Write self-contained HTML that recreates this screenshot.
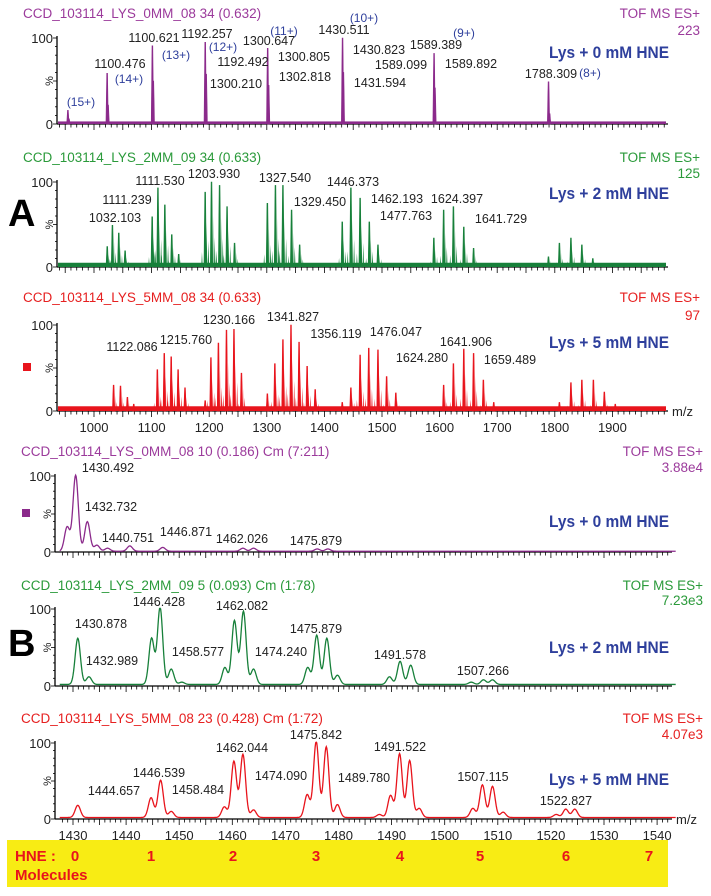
<!DOCTYPE html>
<html><head><meta charset="utf-8">
<style>
html,body{margin:0;padding:0;background:#fff;}
svg{display:block;font-family:"Liberation Sans",sans-serif;}
.lbl{font-size:12.5px;fill:#222;}
.tick{font-size:13px;fill:#222;}
.lys{font-size:17px;font-weight:bold;fill:#2e3f9c;}
.chg{font-size:12px;fill:#2e3f9c;}
</style></head>
<body>
<svg id="chart" width="711" height="896" viewBox="0 0 711 896" xmlns="http://www.w3.org/2000/svg">
<rect x="0" y="0" width="711" height="896" fill="#fff"/>
<text x="8" y="226" font-size="38" font-weight="bold" fill="#000">A</text>
<text x="8" y="656" font-size="38" font-weight="bold" fill="#000">B</text>
<rect x="23" y="363" width="8" height="8" fill="#e8141c"/>
<rect x="22" y="509" width="8" height="8" fill="#8b2a8b"/>
<g id="yellow">
<rect x="7" y="840" width="661" height="47" fill="#f8ec14"/>
<text x="15" y="861" font-size="15" font-weight="bold" fill="#e8141c">HNE :</text>
<text x="15" y="880" font-size="15" font-weight="bold" fill="#e8141c">Molecules</text>
</g>
<g id="plots"></g>
</svg>
<script>
// ---------- data ----------
const a1Mz  = [954.7, 956.5, 1022.8, 1024.5, 1101.4, 1103.0, 1193.1, 1194.8, 1301.5, 1303.2, 1431.5, 1433.0, 1590.4, 1592.0, 1789.1, 1791.0];
const a1Int = [16, 6, 59, 22, 91, 50, 95, 58, 88, 45, 100, 60, 82, 42, 49, 12];
const a2Mz  = [1023, 1032, 1043, 1054, 1101, 1111, 1123, 1135, 1147, 1193, 1204, 1218, 1231, 1244, 1301, 1315, 1328, 1343, 1357, 1431, 1446, 1462, 1478, 1493, 1590, 1607, 1624, 1642, 1659, 1789, 1808, 1828, 1847, 1866];
const a2Int = [24, 49, 40, 19, 59, 93, 73, 38, 15, 88, 100, 96, 71, 28, 75, 96, 96, 67, 26, 53, 93, 81, 53, 26, 34, 67, 71, 47, 22, 12, 28, 34, 26, 10];
const a3Mz  = [1034, 1046, 1058, 1069, 1110, 1122, 1134, 1146, 1158, 1193, 1203, 1216, 1230, 1243, 1256, 1301, 1314, 1328, 1342, 1356, 1370, 1384, 1431, 1446, 1462, 1477, 1493, 1508, 1524, 1607, 1624, 1642, 1659, 1676, 1694, 1808, 1828, 1847, 1867, 1886, 1905];
const a3Int = [30, 29, 16, 8, 48, 67, 63, 48, 27, 12, 62, 79, 94, 95, 44, 20, 55, 83, 100, 80, 52, 25, 10, 27, 65, 73, 71, 40, 21, 30, 55, 72, 67, 36, 10, 10, 33, 36, 36, 22, 8];
const b1Mz  = [1428.9, 1430.5, 1432.7, 1434.5, 1436.5, 1440.7, 1446.9, 1462.0, 1464.0, 1476.0, 1478.0];
const b1Int = [32, 100, 39, 8, 4, 7, 5, 4, 4, 3, 3];
const b2Mz  = [1430.9, 1433.0, 1444.8, 1446.4, 1448.5, 1450.5, 1458.6, 1460.4, 1462.1, 1464.0, 1474.2, 1475.9, 1477.8, 1479.8, 1489.6, 1491.6, 1493.6, 1505.0, 1507.3, 1509.0];
const b2Int = [60, 10, 60, 100, 20, 3, 22, 83, 95, 20, 22, 64, 60, 12, 10, 30, 25, 3, 6, 6];
const b3Mz  = [1430.9, 1444.7, 1446.5, 1448.5, 1458.5, 1460.3, 1462.0, 1464.0, 1474.1, 1475.8, 1477.7, 1479.8, 1487.7, 1489.8, 1491.5, 1493.4, 1495.2, 1505.3, 1507.1, 1509.0, 1511.0, 1521.0, 1522.8, 1524.5];
const b3Int = [16, 26, 49, 8, 14, 74, 83, 10, 30, 100, 93, 17, 4, 29, 84, 75, 12, 12, 43, 41, 7, 4, 11, 11];
const aTickLabels = [1000, 1100, 1200, 1300, 1400, 1500, 1600, 1700, 1800, 1900];
const bTickLabels = [1430, 1440, 1450, 1460, 1470, 1480, 1490, 1500, 1510, 1520, 1530, 1540];
const hneCounts = [0, 1, 2, 3, 4, 5, 6, 7];

// ---------- helpers ----------
const NS = "http://www.w3.org/2000/svg";
const root = document.getElementById('plots');
function mk(tag, attrs, parent, txt) {
  const e = document.createElementNS(NS, tag);
  for (const k in attrs) e.setAttribute(k, attrs[k]);
  if (txt !== undefined) e.textContent = txt;
  (parent || root).appendChild(e);
  return e;
}
const xA = mz => 94 + (mz - 1000) * 0.576;
const xB = mz => 73 + (mz - 1430) * 5.31;

function frame(g, o) {
  const yS = v => o.y0 - (o.y0 - o.y100) * v / 100;
  mk('line', {x1:o.ax, y1:o.y100 - 2, x2:o.ax, y2:o.y0, stroke:'#000', 'stroke-width':1.3}, g);
  mk('line', {x1:o.ax, y1:o.y0, x2:o.xEnd, y2:o.y0, stroke:'#000', 'stroke-width':1.3}, g);
  for (let v = 0; v <= 100; v += 10) {
    mk('line', {x1:o.ax - (v % 50 === 0 ? 4 : 2), y1:yS(v), x2:o.ax, y2:yS(v), stroke:'#000', 'stroke-width':0.8}, g);
  }
  const t100 = mk('text', {x:o.ax - 4, y:yS(100) + 5, 'text-anchor':'end', class:'tick'}, g, '100');
  
  
  const t0 = mk('text', {x:o.ax - 4, y:o.y0 + 5, 'text-anchor':'end', class:'tick'}, g, '0');
  
  
  const pc = mk('text', {x:0, y:0, 'font-size':11, fill:'#222', transform:`translate(${o.ax - 4},${yS(50)}) rotate(-90)`, 'text-anchor':'middle'}, g, '%');
  
  
  for (let m = o.tStart; m <= o.tEnd; m += o.tStep) {
    const xx = o.xf(m);
    if (xx < o.ax || xx > o.xEnd) continue;
    const major = Math.abs((m / o.tMajor) - Math.round(m / o.tMajor)) < 1e-6;
    mk('line', {x1:xx, y1:o.y0, x2:xx, y2:o.y0 + (major ? 6 : 3.5), stroke:'#000', 'stroke-width':0.8}, g);
  }
  const ti = mk('text', {x:o.ax - 34, y:o.titleY, 'font-size':13.5, fill:o.tcol}, g, o.title);
  
  
  const tof = mk('text', {x:o.rightX, y:o.titleY, 'font-size':13.5, fill:o.tcol, 'text-anchor':'end'}, g, 'TOF MS ES+');
  
  
  const sc = mk('text', {x:o.rightX, y:o.scaleY, 'font-size':13.5, fill:o.tcol, 'text-anchor':'end'}, g, o.scale);
  
  
  const ly = mk('text', {x:o.lysX, y:o.lysY, class:'lys', textLength:120, lengthAdjust:'spacingAndGlyphs'}, g, o.lys);
  
  
  return yS;
}

function stickPanel(name, mzArr, intArr, o) {
  const g = mk('g', {});
  
  
  const yS = frame(g, o);
  mk('rect', {x:o.ax + 1, y:yS(o.floor), width:o.xEnd - o.ax - 3, height:o.y0 - yS(o.floor), fill:o.col}, g);
  for (let i = 0; i < mzArr.length; i++) {
    const xx = o.xf(mzArr[i]);
    const p = mk('path', {d:`M${xx - o.bw},${o.y0} L${xx - 0.4},${yS(intArr[i])} L${xx + 0.4},${yS(intArr[i])} L${xx + o.bw},${o.y0} Z`, fill:o.col, stroke:o.col, 'stroke-width':0.6}, g);
    
    
    if (o.sub) {
      const s = mk('path', {d:`M${xx + 2.5},${o.y0} L${xx + 3.2},${yS(intArr[i] * 0.35)} L${xx + 3.9},${o.y0} Z M${xx - 3.9},${o.y0} L${xx - 3.2},${yS(intArr[i] * 0.2)} L${xx - 2.5},${o.y0} Z M${xx + 1.2},${o.y0} L${xx + 1.6},${yS(intArr[i] * 0.6)} L${xx + 2.0},${o.y0} Z`, fill:o.col}, g);
      
      
    }
  }
  return g;
}

function profilePanel(name, mzArr, intArr, o) {
  const g = mk('g', {});
  
  
  const yS = frame(g, o);
  let pts = [];
  const sig = 0.5;
  for (let m = 1427.5; m <= 1543.5; m += 0.1) {
    let v = o.floor;
    for (let i = 0; i < mzArr.length; i++) {
      const d = (m - mzArr[i]) / sig;
      if (Math.abs(d) < 6) v += intArr[i] * Math.exp(-0.5 * d * d);
    }
    pts.push(o.xf(m).toFixed(2) + ',' + yS(Math.min(v, 101)).toFixed(2));
  }
  const pl = mk('polyline', {points:pts.join(' '), fill:'none', stroke:o.col, 'stroke-width':1.3}, g);
  
  
  return g;
}

function labels(g, arr, cls) {
  arr.forEach(a => {
    const t = mk('text', {x:a[1], y:a[2], 'text-anchor':'middle', class:cls || 'lbl'}, g, a[0]);
    
    
  });
}

const purple = '#8b2a8b', green = '#17803a', red = '#e8141c';
const aBase = {ax:57, xEnd:668, xf:xA, tStart:940, tEnd:1990, tStep:10, tMajor:50, rightX:700, lysX:549, bw:1.2};
const bBase = {ax:55, xEnd:672, xf:xB, tStart:1428, tEnd:1543, tStep:1, tMajor:5, rightX:703, lysX:549};

const g1 = stickPanel('spectrum-a1', a1Mz, a1Int, Object.assign({}, aBase, {y0:124, y100:38, col:purple, tcol:'#9b3a9b', floor:3, titleY:18, scaleY:35, scale:'223', title:'CCD_103114_LYS_0MM_08 34 (0.632)', lys:'Lys + 0 mM HNE', lysY:58}));
labels(g1, [['1100.621',154,42],['1192.257',207,38],['1300.647',269,45],['1430.511',344,34],['1589.389',436,49],['1100.476',120,68],['1192.492',243,66],['1300.805',304,61],['1302.818',305,81],['1300.210',236,88],['1430.823',379,54],['1431.594',380,87],['1589.099',401,69],['1589.892',471,68],['1788.309',551,78]]);
labels(g1, [['(15+)',81,106],['(14+)',129,83],['(13+)',176,59],['(12+)',223,51],['(11+)',284,35],['(10+)',364,22],['(9+)',464,37],['(8+)',590,77]], 'chg');

const g2 = stickPanel('spectrum-a2', a2Mz, a2Int, Object.assign({}, aBase, {y0:267, y100:182, col:green, tcol:'#2a9a3a', floor:5, titleY:162, scaleY:178, scale:'125', title:'CCD_103114_LYS_2MM_09 34 (0.633)', lys:'Lys + 2 mM HNE', lysY:199, sub:true}));
labels(g2, [['1111.530',160,185],['1203.930',214,178],['1327.540',285,182],['1446.373',353,186],['1111.239',127,204],['1329.450',320,206],['1462.193',397,203],['1624.397',457,203],['1477.763',406,220],['1641.729',501,223],['1032.103',115,222]]);

const g3 = stickPanel('spectrum-a3', a3Mz, a3Int, Object.assign({}, aBase, {y0:411, y100:325, col:red, tcol:'#e62020', floor:5.5, titleY:302, scaleY:320, scale:'97', title:'CCD_103114_LYS_5MM_08 34 (0.633)', lys:'Lys + 5 mM HNE', lysY:348, sub:true}));
labels(g3, [['1230.166',229,324],['1341.827',293,321],['1122.086',132,351],['1215.760',186,344],['1356.119',336,338],['1476.047',396,336],['1641.906',466,346],['1624.280',422,362],['1659.489',510,364]]);
aTickLabels.forEach(v => {
  const t = mk('text', {x:xA(v), y:432, 'text-anchor':'middle', class:'tick'}, g3, String(v));
  
  
});
const mzA = mk('text', {x:672, y:416, class:'tick'}, g3, 'm/z');



const g4 = profilePanel('spectrum-b1', b1Mz, b1Int, Object.assign({}, bBase, {y0:552, y100:476, col:purple, tcol:'#9b3a9b', floor:1, titleY:456, scaleY:472, scale:'3.88e4', title:'CCD_103114_LYS_0MM_08 10 (0.186) Cm (7:211)', lys:'Lys + 0 mM HNE', lysY:527}));
labels(g4, [['1430.492',108,472],['1432.732',111,511],['1440.751',128,542],['1446.871',186,536],['1462.026',242,543],['1475.879',316,545]]);

const g5 = profilePanel('spectrum-b2', b2Mz, b2Int, Object.assign({}, bBase, {y0:686, y100:609, col:green, tcol:'#2a9a3a', floor:2, titleY:590, scaleY:605, scale:'7.23e3', title:'CCD_103114_LYS_2MM_09 5 (0.093) Cm (1:78)', lys:'Lys + 2 mM HNE', lysY:653}));
labels(g5, [['1430.878',101,628],['1446.428',159,606],['1462.082',242,610],['1432.989',112,665],['1458.577',198,656],['1474.240',281,656],['1475.879',316,633],['1491.578',400,659],['1507.266',483,675]]);

const g6 = profilePanel('spectrum-b3', b3Mz, b3Int, Object.assign({}, bBase, {y0:819, y100:743, col:red, tcol:'#e62020', floor:2, titleY:723, scaleY:739, scale:'4.07e3', title:'CCD_103114_LYS_5MM_08 23 (0.428) Cm (1:72)', lys:'Lys + 5 mM HNE', lysY:785}));
labels(g6, [['1475.842',316,739],['1462.044',242,752],['1491.522',400,751],['1446.539',159,777],['1474.090',281,780],['1489.780',364,782],['1507.115',483,781],['1444.657',114,795],['1458.484',198,794],['1522.827',566,805]]);
bTickLabels.forEach(v => {
  const t = mk('text', {x:xB(v), y:840, 'text-anchor':'middle', class:'tick'}, g6, String(v));
  
  
});
const mzB = mk('text', {x:676, y:824, class:'tick'}, g6, 'm/z');



const hneX = [75, 151, 233, 316, 400, 480, 566, 649];
const yb = document.getElementById('yellow');
hneCounts.forEach((n, i) => {
  const t = mk('text', {x:hneX[i], y:861, 'text-anchor':'middle', 'font-size':15, 'font-weight':'bold', fill:'#e8141c'}, yb, String(n));
  
  
});
</script>
</body></html>
